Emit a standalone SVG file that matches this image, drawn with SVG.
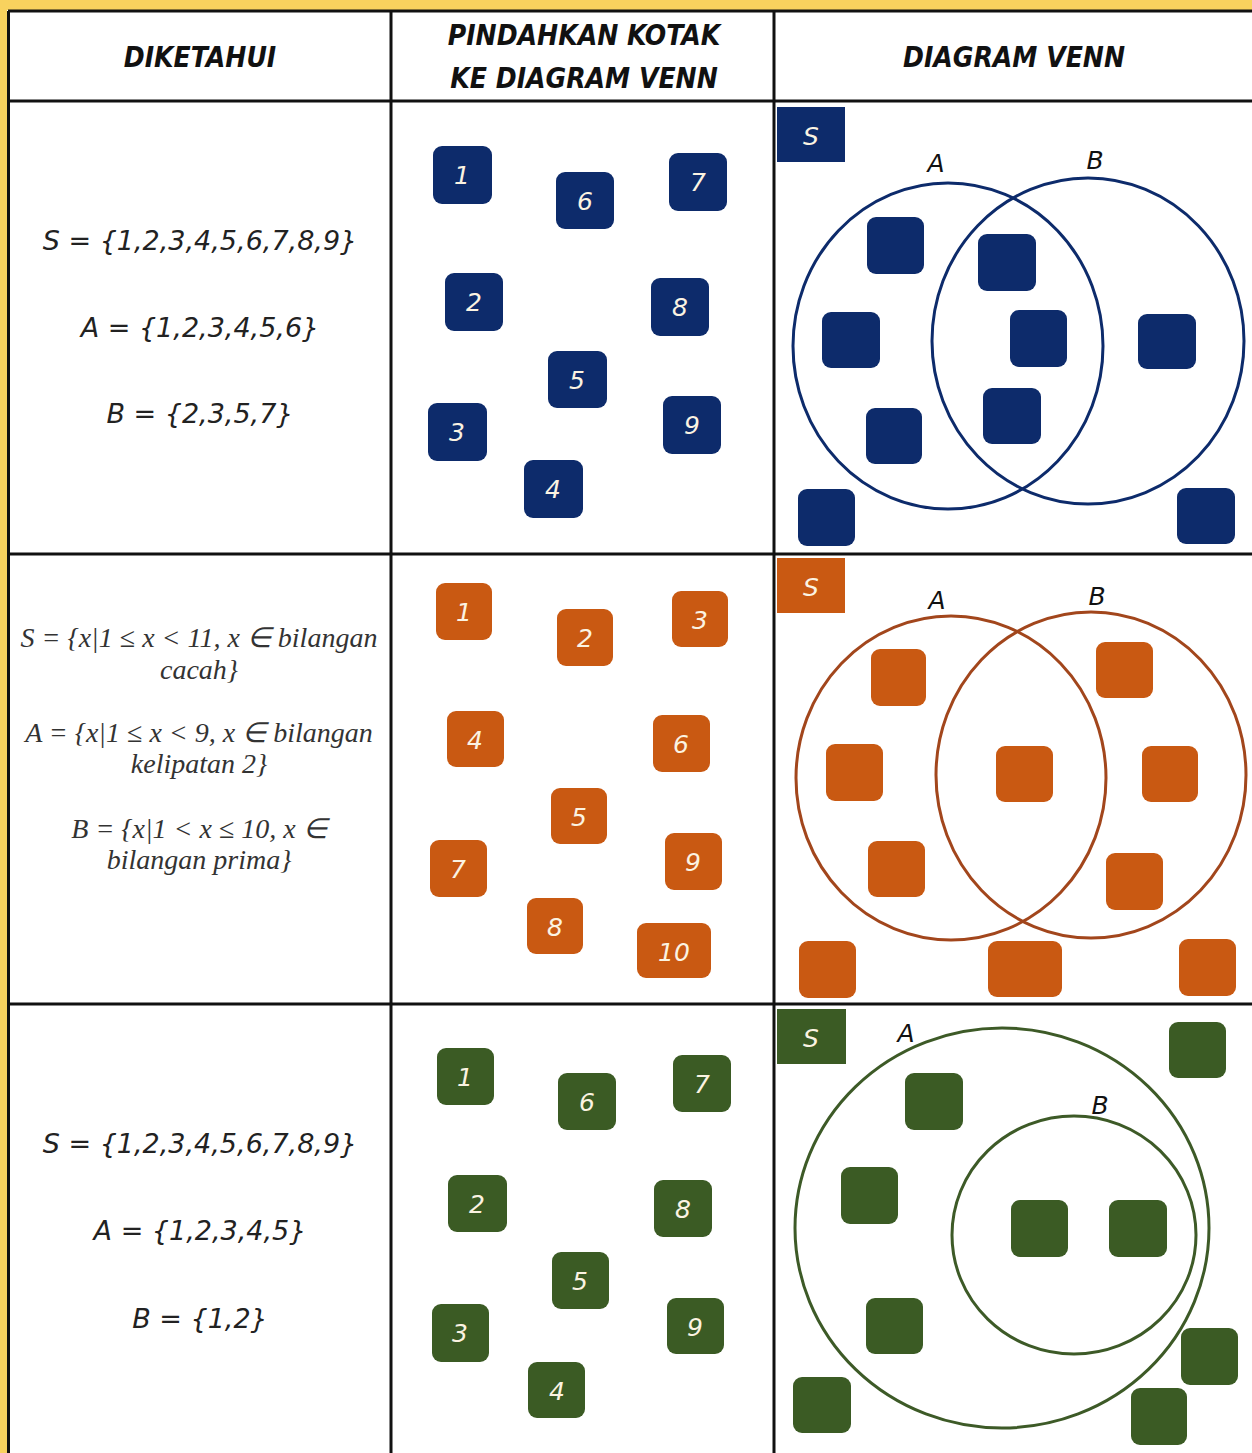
<svg xmlns="http://www.w3.org/2000/svg" width="1252" height="1453" viewBox="0 0 1252 1453">
<style>
.grid{stroke:#111;stroke-width:3;fill:none}
.hdr{font-family:"DejaVu Sans Condensed","DejaVu Sans",sans-serif;font-stretch:condensed;font-style:italic;font-weight:bold;font-size:28px;fill:#111;text-anchor:middle}
.given{font-family:"DejaVu Sans",sans-serif;font-style:italic;font-size:27px;fill:#222;text-anchor:middle}
.math{font-family:"Liberation Serif",serif;font-style:italic;font-size:28px;fill:#333;text-anchor:middle}
.num{font-family:"DejaVu Sans",sans-serif;font-style:italic;font-size:25px;fill:#fbf3e2;text-anchor:middle}
.lbl{font-family:"DejaVu Sans",sans-serif;font-style:italic;font-size:25px;fill:#111;text-anchor:middle}
.navy{fill:#0d2b6b}
.orange{fill:#c95912}
.green{fill:#3b5b24}
.cn{stroke:#0d2b6b;stroke-width:3;fill:none}
.co{stroke:#a2461c;stroke-width:3;fill:none}
.cg{stroke:#3d5a27;stroke-width:3;fill:none}
</style>
<rect x="0" y="0" width="1252" height="1453" fill="#ffffff"/>
<rect x="0" y="0" width="1252" height="10" fill="#f8d25e"/>
<rect x="0" y="0" width="7" height="1453" fill="#f8d25e"/>
<g id="table">
<line class="grid" x1="8" y1="11" x2="1252" y2="11"/>
<line class="grid" x1="8" y1="101" x2="1252" y2="101"/>
<line class="grid" x1="8" y1="554" x2="1252" y2="554"/>
<line class="grid" x1="8" y1="1004" x2="1252" y2="1004"/>
<line class="grid" x1="8.5" y1="11" x2="8.5" y2="1453"/>
<line class="grid" x1="391" y1="11" x2="391" y2="1453"/>
<line class="grid" x1="774" y1="11" x2="774" y2="1453"/>
</g>
<g id="headers">
<text class="hdr" x="200" y="67">DIKETAHUI</text>
<text class="hdr" x="584" y="45">PINDAHKAN KOTAK</text>
<text class="hdr" x="584" y="88">KE DIAGRAM VENN</text>
<text class="hdr" x="1014" y="67">DIAGRAM VENN</text>
</g>
<g id="given1">
<text class="given" x="200" y="250">S = {1,2,3,4,5,6,7,8,9}</text>
<text class="given" x="200" y="337">A = {1,2,3,4,5,6}</text>
<text class="given" x="200" y="423">B = {2,3,5,7}</text>
</g>
<g id="given2">
<text class="math" x="199" y="647">S = {x|1 ≤ x &lt; 11, x ∈ bilangan</text>
<text class="math" x="199" y="679">cacah}</text>
<text class="math" x="199" y="742">A = {x|1 ≤ x &lt; 9, x ∈ bilangan</text>
<text class="math" x="199" y="773">kelipatan 2}</text>
<text class="math" x="199" y="838">B = {x|1 &lt; x ≤ 10, x ∈</text>
<text class="math" x="199" y="869">bilangan prima}</text>
</g>
<g id="given3">
<text class="given" x="200" y="1153">S = {1,2,3,4,5,6,7,8,9}</text>
<text class="given" x="200" y="1240">A = {1,2,3,4,5}</text>
<text class="given" x="200" y="1328">B = {1,2}</text>
</g>
<g id="boxes1">
<g id="b1-1"><rect class="navy" x="433" y="146" width="59" height="58" rx="9"/><text class="num" x="462" y="184">1</text></g>
<g id="b1-6"><rect class="navy" x="556" y="172" width="58" height="57" rx="9"/><text class="num" x="585" y="210">6</text></g>
<g id="b1-7"><rect class="navy" x="669" y="153" width="58" height="58" rx="9"/><text class="num" x="698" y="191">7</text></g>
<g id="b1-2"><rect class="navy" x="445" y="273" width="58" height="58" rx="9"/><text class="num" x="474" y="311">2</text></g>
<g id="b1-8"><rect class="navy" x="651" y="278" width="58" height="58" rx="9"/><text class="num" x="680" y="316">8</text></g>
<g id="b1-5"><rect class="navy" x="548" y="351" width="59" height="57" rx="9"/><text class="num" x="577" y="389">5</text></g>
<g id="b1-3"><rect class="navy" x="428" y="403" width="59" height="58" rx="9"/><text class="num" x="457" y="441">3</text></g>
<g id="b1-9"><rect class="navy" x="663" y="396" width="58" height="58" rx="9"/><text class="num" x="692" y="434">9</text></g>
<g id="b1-4"><rect class="navy" x="524" y="460" width="59" height="58" rx="9"/><text class="num" x="553" y="498">4</text></g>
</g>
<g id="boxes2">
<g id="b2-1"><rect class="orange" x="436" y="583" width="56" height="57" rx="9"/><text class="num" x="464" y="621">1</text></g>
<g id="b2-2"><rect class="orange" x="557" y="609" width="56" height="57" rx="9"/><text class="num" x="585" y="647">2</text></g>
<g id="b2-3"><rect class="orange" x="672" y="591" width="56" height="56" rx="9"/><text class="num" x="700" y="629">3</text></g>
<g id="b2-4"><rect class="orange" x="447" y="711" width="57" height="56" rx="9"/><text class="num" x="475" y="749">4</text></g>
<g id="b2-6"><rect class="orange" x="653" y="715" width="57" height="57" rx="9"/><text class="num" x="681" y="753">6</text></g>
<g id="b2-5"><rect class="orange" x="551" y="788" width="56" height="56" rx="9"/><text class="num" x="579" y="826">5</text></g>
<g id="b2-7"><rect class="orange" x="430" y="840" width="57" height="57" rx="9"/><text class="num" x="458" y="878">7</text></g>
<g id="b2-9"><rect class="orange" x="665" y="833" width="57" height="57" rx="9"/><text class="num" x="693" y="871">9</text></g>
<g id="b2-8"><rect class="orange" x="527" y="898" width="56" height="56" rx="9"/><text class="num" x="555" y="936">8</text></g>
<g id="b2-10"><rect class="orange" x="637" y="923" width="74" height="55" rx="9"/><text class="num" x="674" y="961">10</text></g>
</g>
<g id="boxes3">
<g id="b3-1"><rect class="green" x="437" y="1048" width="57" height="57" rx="9"/><text class="num" x="465" y="1086">1</text></g>
<g id="b3-6"><rect class="green" x="558" y="1073" width="58" height="57" rx="9"/><text class="num" x="587" y="1111">6</text></g>
<g id="b3-7"><rect class="green" x="673" y="1055" width="58" height="57" rx="9"/><text class="num" x="702" y="1093">7</text></g>
<g id="b3-2"><rect class="green" x="448" y="1175" width="59" height="57" rx="9"/><text class="num" x="477" y="1213">2</text></g>
<g id="b3-8"><rect class="green" x="654" y="1180" width="58" height="57" rx="9"/><text class="num" x="683" y="1218">8</text></g>
<g id="b3-5"><rect class="green" x="552" y="1252" width="57" height="57" rx="9"/><text class="num" x="580" y="1290">5</text></g>
<g id="b3-3"><rect class="green" x="432" y="1304" width="57" height="58" rx="9"/><text class="num" x="460" y="1342">3</text></g>
<g id="b3-9"><rect class="green" x="667" y="1298" width="57" height="56" rx="9"/><text class="num" x="695" y="1336">9</text></g>
<g id="b3-4"><rect class="green" x="528" y="1362" width="57" height="56" rx="9"/><text class="num" x="557" y="1400">4</text></g>
</g>
<g id="venn1">
<g id="v1-S"><rect class="navy" x="777" y="107" width="68" height="55"/><text class="num" x="811" y="145">S</text></g>
<text class="lbl" x="936" y="172">A</text>
<text class="lbl" x="1095" y="169">B</text>
<ellipse id="v1-A" class="cn" cx="948" cy="346" rx="155" ry="163"/>
<ellipse id="v1-B" class="cn" cx="1088" cy="341" rx="156" ry="163"/>
<rect class="navy" x="867" y="217" width="57" height="57" rx="9"/>
<rect class="navy" x="978" y="234" width="58" height="57" rx="9"/>
<rect class="navy" x="822" y="312" width="58" height="56" rx="9"/>
<rect class="navy" x="1010" y="310" width="57" height="57" rx="9"/>
<rect class="navy" x="1138" y="314" width="58" height="55" rx="9"/>
<rect class="navy" x="866" y="408" width="56" height="56" rx="9"/>
<rect class="navy" x="983" y="388" width="58" height="56" rx="9"/>
<rect class="navy" x="798" y="489" width="57" height="57" rx="9"/>
<rect class="navy" x="1177" y="488" width="58" height="56" rx="9"/>
</g>
<g id="venn2">
<g id="v2-S"><rect class="orange" x="777" y="558" width="68" height="55"/><text class="num" x="811" y="596">S</text></g>
<text class="lbl" x="937" y="609">A</text>
<text class="lbl" x="1097" y="605">B</text>
<ellipse id="v2-A" class="co" cx="951" cy="778" rx="155" ry="162"/>
<ellipse id="v2-B" class="co" cx="1091" cy="775" rx="155" ry="163"/>
<rect class="orange" x="871" y="649" width="55" height="57" rx="9"/>
<rect class="orange" x="1096" y="642" width="57" height="56" rx="9"/>
<rect class="orange" x="826" y="744" width="57" height="57" rx="9"/>
<rect class="orange" x="996" y="746" width="57" height="56" rx="9"/>
<rect class="orange" x="1142" y="746" width="56" height="56" rx="9"/>
<rect class="orange" x="868" y="841" width="57" height="56" rx="9"/>
<rect class="orange" x="1106" y="853" width="57" height="57" rx="9"/>
<rect class="orange" x="799" y="941" width="57" height="57" rx="9"/>
<rect class="orange" x="988" y="941" width="74" height="56" rx="9"/>
<rect class="orange" x="1179" y="939" width="57" height="57" rx="9"/>
</g>
<g id="venn3">
<g id="v3-S"><rect class="green" x="777" y="1009" width="69" height="55"/><text class="num" x="811" y="1047">S</text></g>
<text class="lbl" x="906" y="1042">A</text>
<text class="lbl" x="1100" y="1114">B</text>
<ellipse id="v3-A" class="cg" cx="1002" cy="1228" rx="207" ry="200"/>
<ellipse id="v3-B" class="cg" cx="1074" cy="1235" rx="122" ry="119"/>
<rect class="green" x="1169" y="1022" width="57" height="56" rx="9"/>
<rect class="green" x="905" y="1073" width="58" height="57" rx="9"/>
<rect class="green" x="841" y="1167" width="57" height="57" rx="9"/>
<rect class="green" x="1011" y="1200" width="57" height="57" rx="9"/>
<rect class="green" x="1109" y="1200" width="58" height="57" rx="9"/>
<rect class="green" x="866" y="1298" width="57" height="56" rx="9"/>
<rect class="green" x="1181" y="1328" width="57" height="57" rx="9"/>
<rect class="green" x="1131" y="1388" width="56" height="57" rx="9"/>
<rect class="green" x="793" y="1377" width="58" height="56" rx="9"/>
</g>
<g id="connectors"/>
</svg>
